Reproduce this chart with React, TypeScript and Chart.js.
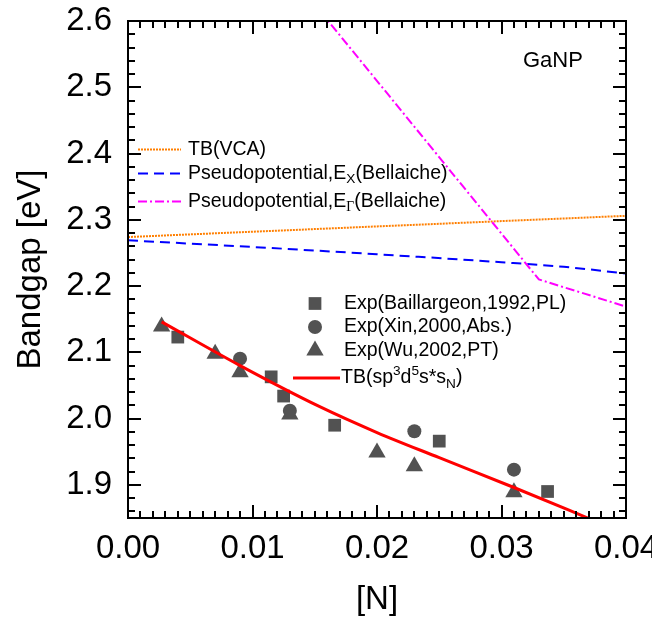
import React, { useEffect, useRef } from "react";
import { Chart, registerables } from "chart.js";

Chart.register(...registerables);

const FONT = "'Liberation Sans', Arial, sans-serif";
const LEG = 19.5;

// Axis ticks
const xTicks = [0, 0.01, 0.02, 0.03, 0.04];
const yTicks = [1.9, 2.0, 2.1, 2.2, 2.3, 2.4, 2.5, 2.6];

// TB(VCA)
const vcaN = [0, 0.02, 0.04];
const vcaGap = [2.274, 2.29, 2.306];
// Pseudopotential E_X (Bellaiche)
const exN = [0, 0.01, 0.02, 0.03, 0.035, 0.04];
const exGap = [2.269, 2.259, 2.248, 2.236, 2.229, 2.219];
// Pseudopotential E_Gamma (Bellaiche)
const egN = [0.012, 0.033, 0.04];
const egGap = [2.694, 2.21, 2.169];
// Exp (Baillargeon, 1992, PL)
const baillN = [0.004, 0.0115, 0.0125, 0.0166, 0.025, 0.0337];
const baillGap = [2.123, 2.063, 2.034, 1.99, 1.966, 1.89];
// Exp (Xin, 2000, Abs.)
const xinN = [0.009, 0.013, 0.023, 0.031];
const xinGap = [2.0905, 2.012, 1.981, 1.923];
// Exp (Wu, 2002, PT)
const wuN = [0.0027, 0.007, 0.009, 0.013, 0.02, 0.023, 0.031];
const wuGap = [2.139, 2.098, 2.07, 2.006, 1.949, 1.928, 1.889];
// TB(sp3d5s*sN)
const tbN = [0.0027, 0.009, 0.0154, 0.02, 0.025, 0.031, 0.0368, 0.04];
const tbGap = [2.146, 2.08, 2.018, 1.979, 1.941, 1.896, 1.851, 1.826];

const pts = (xs: number[], ys: number[]) => xs.map((x, i) => ({ x, y: ys[i] }));

const MARK = "#525252";

type Seg = { t: string; sub?: boolean; sup?: boolean; serif?: boolean };

function drawRich(ctx: CanvasRenderingContext2D, x: number, y: number, segs: Seg[], size: number) {
  let cx = x;
  ctx.textBaseline = "middle";
  ctx.textAlign = "left";
  ctx.fillStyle = "#000";
  for (const s of segs) {
    const fs = s.sub || s.sup ? size * 0.7 : size;
    ctx.font = `${fs}px ${s.serif ? "'Liberation Serif', serif" : FONT}`;
    const dy = s.sub ? size * 0.3 : s.sup ? -size * 0.33 : 0;
    ctx.fillText(s.t, cx, y + dy);
    cx += ctx.measureText(s.t).width;
  }
}

function drawMarker(ctx: CanvasRenderingContext2D, style: string, x: number, y: number, r: number) {
  ctx.fillStyle = MARK;
  ctx.beginPath();
  if (style === "rect") {
    const h = Math.SQRT1_2 * r;
    ctx.rect(x - h, y - h, 2 * h, 2 * h);
  } else if (style === "circle") {
    ctx.arc(x, y, r, 0, Math.PI * 2);
  } else {
    const a = Math.PI / 2;
    for (let k = 0; k < 3; k++) {
      const ang = -a + (k * 2 * Math.PI) / 3;
      const px = x + Math.cos(ang) * r;
      const py = y + Math.sin(ang) * r;
      if (k === 0) ctx.moveTo(px, py);
      else ctx.lineTo(px, py);
    }
    ctx.closePath();
  }
  ctx.fill();
}

const framePlugin = {
  id: "frameTicks",
  afterDatasetsDraw(chart: any) {
    const { ctx, chartArea: ca, scales } = chart;
    const xs = scales.x;
    const ys = scales.y;
    ctx.save();
    ctx.strokeStyle = "#000";
    ctx.lineWidth = 2;
    ctx.lineCap = "butt";
    ctx.beginPath();
    for (let i = 1; i < 40; i++) {
      const v = i / 1000;
      const px = Math.round(xs.getPixelForValue(v));
      const len = i % 10 === 0 ? 13 : 7;
      ctx.moveTo(px, ca.bottom);
      ctx.lineTo(px, ca.bottom - len);
      ctx.moveTo(px, ca.top);
      ctx.lineTo(px, ca.top + len);
    }
    for (let i = 93; i < 130; i++) {
      const v = i / 50;
      const py = Math.round(ys.getPixelForValue(v));
      const len = i % 5 === 0 ? 13 : 7;
      ctx.moveTo(ca.left, py);
      ctx.lineTo(ca.left + len, py);
      ctx.moveTo(ca.right, py);
      ctx.lineTo(ca.right - len, py);
    }
    ctx.stroke();
    ctx.strokeRect(ca.left, ca.top, ca.right - ca.left, ca.bottom - ca.top);
    ctx.restore();
  },
};

const legendPlugin = {
  id: "customLegend",
  afterDraw(chart: any) {
    const { ctx, data } = chart;
    const ds = data.datasets;
    ctx.save();
    // Line legend (top-left)
    const lines = [
      { i: 0, y: 149.5, segs: [{ t: "TB(VCA)" }] as Seg[] },
      { i: 1, y: 173.5, segs: [{ t: "Pseudopotential,E" }, { t: "X", sub: true }, { t: "(Bellaiche)" }] as Seg[] },
      { i: 2, y: 201.5, segs: [{ t: "Pseudopotential,E" }, { t: "\u0393", sub: true, serif: true }, { t: "(Bellaiche)" }] as Seg[] },
    ];
    for (const l of lines) {
      const d = ds[l.i];
      ctx.strokeStyle = d.borderColor;
      ctx.lineWidth = d.borderWidth;
      ctx.setLineDash(d.borderDash || []);
      ctx.beginPath();
      ctx.moveTo(138, l.y);
      ctx.lineTo(181, l.y);
      ctx.stroke();
      ctx.setLineDash([]);
      drawRich(ctx, 188, l.y, l.segs, LEG);
    }
    // Symbol legend
    const syms = [
      { i: 3, y: 303.5, segs: [{ t: "Exp(Baillargeon,1992,PL)" }] as Seg[] },
      { i: 4, y: 327, segs: [{ t: "Exp(Xin,2000,Abs.)" }] as Seg[] },
      { i: 5, y: 350.5, segs: [{ t: "Exp(Wu,2002,PT)" }] as Seg[] },
    ];
    for (const s of syms) {
      const d = ds[s.i];
      drawMarker(ctx, d.pointStyle, 315, s.y, d.pointRadius);
      drawRich(ctx, 344, s.y, s.segs, LEG);
    }
    const tb = ds[6];
    ctx.strokeStyle = tb.borderColor;
    ctx.lineWidth = tb.borderWidth;
    ctx.beginPath();
    ctx.moveTo(293, 378);
    ctx.lineTo(340, 378);
    ctx.stroke();
    drawRich(
      ctx,
      341,
      378,
      [
        { t: "TB(sp" },
        { t: "3", sup: true },
        { t: "d" },
        { t: "5", sup: true },
        { t: "s*s" },
        { t: "N", sub: true },
        { t: ")" },
      ],
      LEG
    );
    // Material label
    ctx.font = `22px ${FONT}`;
    ctx.fillStyle = "#000";
    ctx.textBaseline = "middle";
    ctx.textAlign = "left";
    ctx.fillText("GaNP", 523, 61);
    ctx.restore();
  },
};

export default function App() {
  const ref = useRef<HTMLCanvasElement | null>(null);
  useEffect(() => {
    if (!ref.current) return;
    const chart = new Chart(ref.current, {
      type: "scatter",
      data: {
        datasets: [
          {
            label: "TB(VCA)",
            data: pts(vcaN, vcaGap),
            showLine: true,
            borderColor: "#FF7F00",
            borderWidth: 2,
            borderDash: [2, 1],
            pointRadius: 0,
            order: 3,
            clip: 0,
          } as any,
          {
            label: "Pseudopotential,EX(Bellaiche)",
            data: pts(exN, exGap),
            showLine: true,
            borderColor: "#0000FF",
            borderWidth: 2,
            borderDash: [10, 6],
            pointRadius: 0,
            cubicInterpolationMode: "monotone",
            order: 3,
            clip: 0,
          },
          {
            label: "Pseudopotential,EΓ(Bellaiche)",
            data: pts(egN, egGap),
            showLine: true,
            borderColor: "#FF00FF",
            borderWidth: 2,
            borderDash: [9, 3, 2, 3],
            pointRadius: 0,
            order: 2,
            clip: 0,
          },
          {
            label: "Exp(Baillargeon,1992,PL)",
            data: pts(baillN, baillGap),
            pointStyle: "rect",
            pointRadius: 9,
            backgroundColor: MARK,
            borderColor: MARK,
            pointBorderWidth: 0,
            order: 1,
          },
          {
            label: "Exp(Xin,2000,Abs.)",
            data: pts(xinN, xinGap),
            pointStyle: "circle",
            pointRadius: 7,
            backgroundColor: MARK,
            borderColor: MARK,
            pointBorderWidth: 0,
            order: 1,
          },
          {
            label: "Exp(Wu,2002,PT)",
            data: pts(wuN, wuGap),
            pointStyle: "triangle",
            pointRadius: 10,
            backgroundColor: MARK,
            borderColor: MARK,
            pointBorderWidth: 0,
            order: 1,
          },
          {
            label: "TB(sp3d5s*sN)",
            data: pts(tbN, tbGap),
            showLine: true,
            borderColor: "#FF0000",
            borderWidth: 3,
            pointRadius: 0,
            cubicInterpolationMode: "monotone",
            order: 0,
            clip: 0,
          },
        ],
      },
      options: {
        responsive: false,
        animation: false,
        devicePixelRatio: 1,
        layout: { padding: { left: 0, top: 21, right: 26, bottom: 0 } },
        plugins: { legend: { display: false }, tooltip: { enabled: false } },
        scales: {
          x: {
            type: "linear",
            min: 0,
            max: 0.04,
            grid: { display: false, drawTicks: false },
            border: { display: false },
            afterBuildTicks: (s: any) => {
              s.ticks = xTicks.map((v) => ({ value: v }));
            },
            afterFit: (s: any) => {
              s.height = 104;
              s.paddingLeft = 0;
              s.paddingRight = 0;
            },
            ticks: {
              color: "#000",
              font: { family: FONT, size: 33 },
              padding: 11,
              maxRotation: 0,
              autoSkip: false,
              callback: (v: any) => Number(v).toFixed(2),
            },
            title: {
              display: true,
              text: "[N]",
              color: "#000",
              font: { family: FONT, size: 33 },
              padding: { top: 0, bottom: 2 },
            },
          },
          y: {
            type: "linear",
            min: 1.85,
            max: 2.6,
            grid: { display: false, drawTicks: false },
            border: { display: false },
            afterBuildTicks: (s: any) => {
              s.ticks = yTicks.map((v) => ({ value: v }));
            },
            afterFit: (s: any) => {
              s.width = 128;
              s.paddingTop = 0;
              s.paddingBottom = 0;
            },
            ticks: {
              color: "#000",
              font: { family: FONT, size: 33 },
              padding: 16,
              autoSkip: false,
              callback: (v: any) => Number(v).toFixed(1),
            },
            title: {
              display: true,
              text: "Bandgap [eV]",
              color: "#000",
              font: { family: FONT, size: 33 },
              padding: { top: 11, bottom: 0 },
            },
          },
        },
      },
      plugins: [framePlugin, legendPlugin],
    });
    return () => chart.destroy();
  }, []);
  return (
    <div style={{ position: "absolute", left: 0, top: 0, width: 652, height: 622, background: "#fff" }}>
      <canvas ref={ref} width={652} height={622} style={{ display: "block" }} />
    </div>
  );
}
